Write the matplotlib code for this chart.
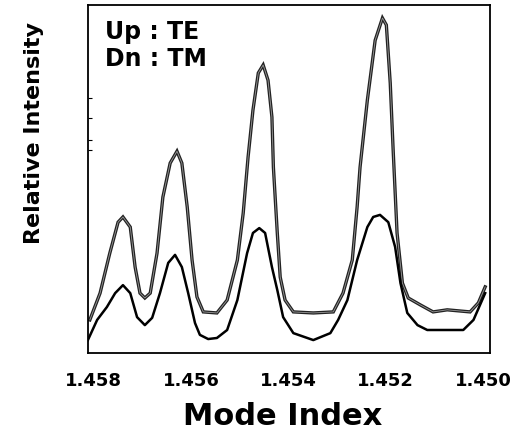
import matplotlib
matplotlib.use("Agg")
import matplotlib.pyplot as plt

# Mode index (x) and relative intensity (y)
te_index = [1.45808, 1.45787, 1.45767, 1.45750, 1.45740, 1.45725, 1.45715, 1.45705, 1.45695,
            1.45684, 1.45670, 1.45658, 1.45643, 1.45629, 1.45619, 1.45608, 1.45598, 1.45588,
            1.45575, 1.45547, 1.45526, 1.45505, 1.45493, 1.45483, 1.45473, 1.45462, 1.45452,
            1.45442, 1.45434, 1.45431, 1.45423, 1.45417, 1.45407, 1.45390, 1.45349, 1.45308,
            1.45288, 1.45269, 1.45259, 1.45253, 1.45238, 1.45222, 1.45207, 1.45199, 1.45191,
            1.45185, 1.45177, 1.45166, 1.45154, 1.45129, 1.45103, 1.45074, 1.45027, 1.45010,
            1.44996]
te_value = [0.095, 0.172, 0.287, 0.376, 0.391, 0.362, 0.247, 0.172, 0.158,
            0.172, 0.287, 0.448, 0.546, 0.580, 0.546, 0.420, 0.267, 0.161,
            0.118, 0.115, 0.152, 0.267, 0.402, 0.563, 0.698, 0.805, 0.828,
            0.784, 0.678, 0.534, 0.345, 0.218, 0.152, 0.118, 0.115, 0.118,
            0.172, 0.267, 0.420, 0.534, 0.727, 0.899, 0.963, 0.943, 0.776,
            0.583, 0.345, 0.201, 0.158, 0.138, 0.118, 0.124, 0.118, 0.144,
            0.190]

tm_index = [1.45812, 1.45793, 1.45773, 1.45756, 1.45740, 1.45725, 1.45711, 1.45695, 1.45680,
            1.45664, 1.45647, 1.45633, 1.45619, 1.45606, 1.45592, 1.45582, 1.45565, 1.45547,
            1.45526, 1.45505, 1.45485, 1.45473, 1.45460, 1.45448, 1.45434, 1.45423, 1.45411,
            1.45390, 1.45349, 1.45314, 1.45298, 1.45279, 1.45259, 1.45238, 1.45226, 1.45212,
            1.45195, 1.45181, 1.45170, 1.45156, 1.45135, 1.45115, 1.45074, 1.45041, 1.45020,
            1.44996]
tm_value = [0.037, 0.095, 0.132, 0.172, 0.195, 0.172, 0.103, 0.080, 0.101,
            0.172, 0.259, 0.282, 0.247, 0.172, 0.086, 0.052, 0.040, 0.043,
            0.066, 0.152, 0.287, 0.345, 0.359, 0.345, 0.247, 0.181, 0.103,
            0.057, 0.037, 0.057, 0.095, 0.152, 0.267, 0.362, 0.391, 0.397,
            0.376, 0.305, 0.201, 0.115, 0.080, 0.066, 0.066, 0.066, 0.095,
            0.172]

x_ticks = [1.458, 1.456, 1.454, 1.452, 1.450]
x_ticklabels = ["1.458", "1.456", "1.454", "1.452", "1.450"]

fig = plt.figure(figsize=(5.11, 4.32), dpi=100)
ax = fig.add_axes([0.172, 0.183, 0.787, 0.805])

ax.plot(te_index, te_value, color="#222222", lw=2.4, solid_joinstyle="miter")
ax.plot(te_index, te_value, color="#9a9a9a", lw=0.6)
ax.plot(tm_index, tm_value, color="black", lw=1.8)

ax.set_xlim(1.45812, 1.44986)
ax.set_ylim(0, 1)
ax.set_xticks(x_ticks)
ax.set_xticklabels(x_ticklabels, fontsize=13, fontweight="bold", family="DejaVu Sans")
ax.tick_params(axis="x", length=0, pad=14)
ax.set_yticks([0.583, 0.612, 0.675, 0.733])
ax.set_yticklabels([])
ax.tick_params(axis="y", direction="in", length=3, width=0.8)

for s in ax.spines.values():
    s.set_linewidth(1.3)

ax.set_xlabel("Mode Index", fontsize=22, fontweight="bold", family="DejaVu Sans")
ax.xaxis.set_label_coords(0.483, -0.14)
ax.set_ylabel("Relative Intensity", fontsize=16, fontweight="bold", family="DejaVu Sans")
ax.yaxis.set_label_coords(-0.11, 0.632)

ax.text(0.042, 0.958, "Up : TE", transform=ax.transAxes, fontsize=17, fontweight="bold",
        family="DejaVu Sans", va="top", ha="left")
ax.text(0.042, 0.88, "Dn : TM", transform=ax.transAxes, fontsize=17, fontweight="bold",
        family="DejaVu Sans", va="top", ha="left")

fig.savefig("out.png", dpi=100)
